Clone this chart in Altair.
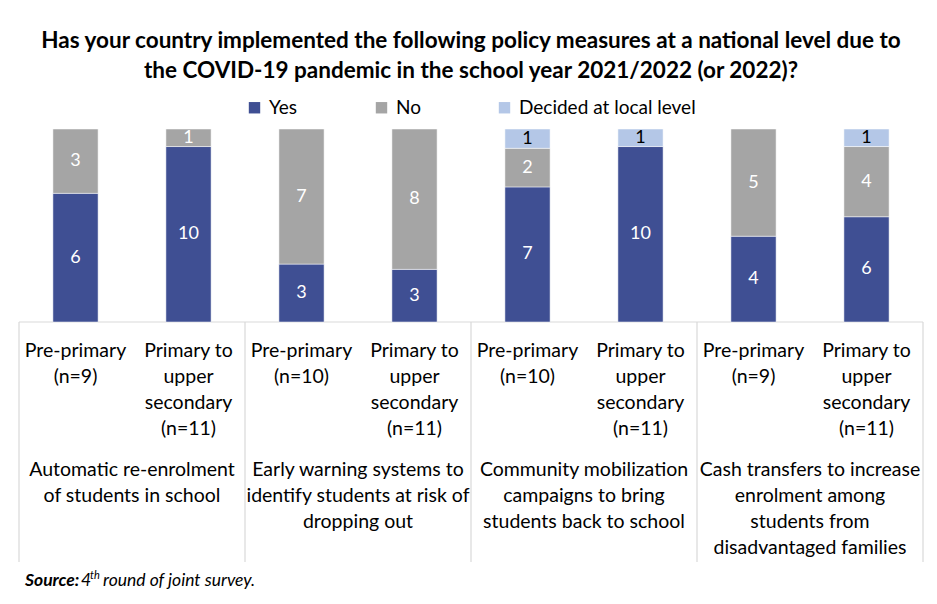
import altair as alt
import pandas as pd

# ---- data ----
measures = [
    "Automatic re-enrolment\nof students in school",
    "Early warning systems to\nidentify students at risk of\ndropping out",
    "Community mobilization\ncampaigns to bring\nstudents back to school",
    "Cash transfers to increase\nenrolment among\nstudents from\ndisadvantaged families",
]
level_labels = [
    "Pre-primary\n(n=9)", "Primary to\nupper\nsecondary\n(n=11)",
    "Pre-primary\n(n=10)", "Primary to\nupper\nsecondary\n(n=11)",
    "Pre-primary\n(n=10)", "Primary to\nupper\nsecondary\n(n=11)",
    "Pre-primary\n(n=9)", "Primary to\nupper\nsecondary\n(n=11)",
]
n_resp = [9, 11, 10, 11, 10, 11, 9, 11]
yes = [6, 10, 3, 3, 7, 10, 4, 6]
no = [3, 1, 7, 8, 2, 0, 5, 4]
local = [0, 0, 0, 0, 1, 1, 0, 1]
answers = ["Yes", "No", "Decided at local level"]
colors = ["#3F4F93", "#A5A5A5", "#B4C7E7"]
title_text = ("Has your country implemented the following policy measures at a national level due to\n"
              "the COVID-19 pandemic in the school year 2021/2022 (or 2022)?")
source_parts = ["Source:", "4", "th", "round of joint survey."]

FONT = "Lato"

rows = []
for i in range(len(n_resp)):
    cum = 0
    for a, c in zip(answers, [yes[i], no[i], local[i]]):
        if c > 0:
            rows.append(dict(pos=i, answer=a, n=c,
                             s0=cum / n_resp[i], s1=(cum + c) / n_resp[i],
                             smid=(cum + c / 2) / n_resp[i]))
        cum += c
bars_df = pd.DataFrame(rows)
bars_df["left"] = bars_df["pos"] - 0.2
bars_df["right"] = bars_df["pos"] + 0.2

lvl_df = pd.DataFrame({"pos": list(range(len(level_labels))), "label": level_labels})
grp_df = pd.DataFrame({"gpos": [2 * g + 0.5 for g in range(len(measures))], "label": measures})
sep_df = pd.DataFrame({"sx": [-0.5, 1.5, 3.5, 5.5, 7.5]})
base_df = pd.DataFrame({"a": [-0.5], "b": [7.5], "yv": [0]})
title_df = pd.DataFrame({"t": [title_text]})
src_df = pd.DataFrame({"p0": [source_parts[0]], "p1": [source_parts[1]],
                       "p2": [source_parts[2]], "p3": [source_parts[3]]})

xs = alt.Scale(domain=[-0.5, 7.5], nice=False, zero=False)
ys = alt.Scale(domain=[0, 1], nice=False)

baseline = alt.Chart(base_df).mark_rule(color="#D9D9D9", strokeWidth=1.2).encode(
    x=alt.X("a:Q", scale=xs, axis=None), x2="b:Q",
    y=alt.Y("yv:Q", scale=ys, axis=None),
)

seps = alt.Chart(sep_df).mark_rule(color="#D9D9D9", strokeWidth=1.2).encode(
    x=alt.X("sx:Q", scale=xs, axis=None), y=alt.value(193), y2=alt.value(433)
)

bars = alt.Chart(bars_df).mark_bar(stroke="white", strokeWidth=0.5).encode(
    x=alt.X("left:Q", scale=xs, axis=None),
    x2="right:Q",
    y=alt.Y("s0:Q", scale=ys, axis=None),
    y2="s1:Q",
    color=alt.Color("answer:N",
                    scale=alt.Scale(domain=answers, range=colors),
                    legend=alt.Legend(title=None, orient="none", legendX=226, legendY=-31,
                                      direction="horizontal", symbolType="square",
                                      symbolSize=130, symbolStrokeWidth=0, padding=0,
                                      labelFont=FONT, labelFontSize=19, labelColor="black",
                                      labelLimit=400, columnPadding=74, labelOffset=5)),
)

bar_text = alt.Chart(bars_df).mark_text(font=FONT, fontSize=18, baseline="middle").encode(
    x=alt.X("pos:Q", scale=xs, axis=None),
    y=alt.Y("smid:Q", scale=ys, axis=None),
    text=alt.Text("n:Q"),
    color=alt.condition(alt.datum.answer == "Decided at local level",
                        alt.value("black"), alt.value("white")),
)

lvl_text = alt.Chart(lvl_df).mark_text(font=FONT, fontSize=19.5, lineBreak="\n", lineHeight=26,
                                       align="center", baseline="alphabetic", color="black").encode(
    x=alt.X("pos:Q", scale=xs, axis=None), y=alt.value(228), text="label:N"
)

grp_text = alt.Chart(grp_df).mark_text(font=FONT, fontSize=19.5, lineBreak="\n", lineHeight=26,
                                       align="center", baseline="alphabetic", color="black").encode(
    x=alt.X("gpos:Q", scale=xs, axis=None), y=alt.value(347), text="label:N"
)

title = alt.Chart(title_df).mark_text(font=FONT, fontSize=22.5, fontWeight="bold", lineBreak="\n",
                                      lineHeight=30, align="center", baseline="alphabetic",
                                      color="black").encode(
    x=alt.value(452), y=alt.value(-81), text="t:N"
)

src1 = alt.Chart(src_df).mark_text(font=FONT, fontSize=17.5, fontStyle="italic", fontWeight="bold",
                                   align="left", baseline="alphabetic", color="black").encode(
    x=alt.value(6), y=alt.value(457), text="p0:N")
src2 = alt.Chart(src_df).mark_text(font=FONT, fontSize=17.5, fontStyle="italic",
                                   align="left", baseline="alphabetic", color="black").encode(
    x=alt.value(62), y=alt.value(457), text="p1:N")
src3 = alt.Chart(src_df).mark_text(font=FONT, fontSize=11, fontStyle="italic",
                                   align="left", baseline="alphabetic", color="black").encode(
    x=alt.value(71), y=alt.value(450), text="p2:N")
src4 = alt.Chart(src_df).mark_text(font=FONT, fontSize=17.5, fontStyle="italic",
                                   align="left", baseline="alphabetic", color="black").encode(
    x=alt.value(84), y=alt.value(457), text="p3:N")

chart = alt.layer(
    baseline, seps, bars, bar_text, lvl_text, grp_text, title, src1, src2, src3, src4
).properties(
    width=904, height=193,
    autosize=alt.AutoSizeParams(type="none"),
    padding={"left": 11, "top": 121, "right": 2, "bottom": 268},
    background="white",
).configure_view(strokeWidth=0)

chart.save("out.html", embed_options={"renderer": "svg", "actions": False})
